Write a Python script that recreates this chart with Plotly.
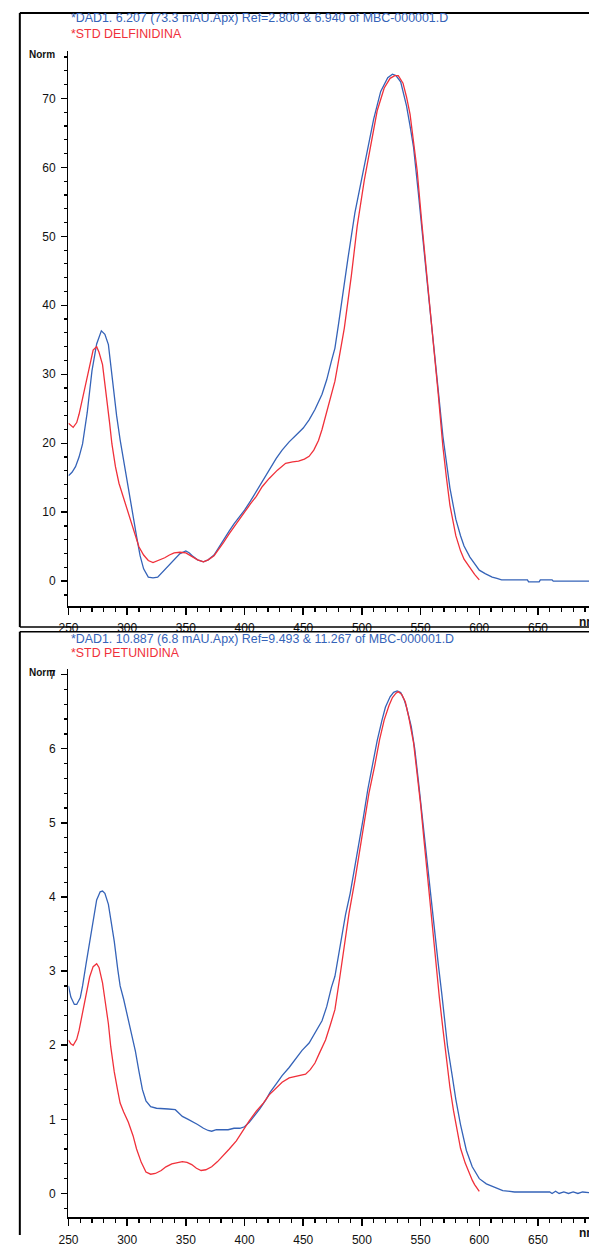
import plotly.graph_objects as go

W, H = 589, 1247

# ---------------- data ----------------
top_blue_nm = [250, 253, 256, 259, 262, 266, 270, 274, 278, 281, 284, 287, 291, 294, 297, 301, 305, 308, 311, 314,
               318, 322, 326, 330, 335, 340, 345, 350, 353, 356, 360, 365, 369, 374, 378, 382, 387, 391, 396, 400,
               405, 410, 415, 421, 427, 432, 438, 444, 450, 455, 460, 466, 470, 474, 477, 480, 483, 488, 494, 499,
               505, 510, 516, 522, 526, 529, 533, 538, 541, 544, 548, 552, 556, 561, 565, 569, 575, 580, 584, 587,
               592, 597, 600, 605, 611, 615, 619, 641, 642, 651, 652, 662, 663, 694]
top_blue_val = [15.3, 15.8, 16.6, 18.0, 19.9, 24.5, 30.5, 34.4, 36.3, 35.8, 34.3, 29.6, 24.0, 20.5, 17.4, 13.7, 9.6, 6.5, 3.7, 1.8,
                0.6, 0.5, 0.6, 1.3, 2.3, 3.2, 4.0, 4.4, 4.1, 3.6, 3.1, 2.8, 3.1, 3.8, 4.9, 6.1, 7.3, 8.3, 9.4, 10.3,
                11.6, 13.0, 14.5, 16.1, 17.8, 19.0, 20.2, 21.2, 22.2, 23.4, 24.9, 27.1, 29.2, 31.9, 33.8, 37.2, 40.5, 46.7, 53.4, 57.7,
                62.4, 67.0, 71.0, 73.0, 73.5, 73.3, 72.4, 68.9, 66.0, 62.9, 56.4, 50.0, 42.7, 34.4, 27.5, 21.0, 13.5, 9.0, 6.6, 5.1,
                3.5, 2.2, 1.6, 1.1, 0.6, 0.4, 0.2, 0.2, -0.1, -0.1, 0.2, 0.2, 0.0, 0.0]

top_red_nm = [250, 252, 254, 257, 259, 262, 265, 268, 271, 274, 276, 279, 281, 283, 285, 287, 290, 293, 297, 301,
              305, 310, 314, 318, 322, 327, 332, 336, 340, 345, 350, 355, 360, 365, 369, 374, 378, 382, 387, 391,
              396, 400, 405, 410, 415, 421, 428, 435, 441, 446, 451, 455, 459, 463, 466, 469, 473, 477, 481, 485,
              491, 496, 502, 508, 513, 519, 524, 528, 531, 535, 538, 541, 544, 547, 551, 556, 561, 565, 569, 572,
              575, 580, 584, 587, 592, 596, 600]
top_red_val = [22.9, 22.6, 22.3, 23.0, 24.2, 26.5, 29.0, 31.5, 33.5, 34.0, 33.2, 31.4, 28.8, 26.1, 23.0, 19.9, 16.6, 14.2, 12.0, 9.9,
               7.6, 5.0, 3.8, 3.0, 2.7, 3.0, 3.4, 3.8, 4.1, 4.2, 4.1, 3.6, 3.1, 2.8, 3.1, 3.7, 4.6, 5.6, 6.9, 7.9,
               9.1, 10.0, 11.2, 12.3, 13.7, 14.9, 16.1, 17.1, 17.3, 17.4, 17.7, 18.1, 19.0, 20.4, 22.0, 23.8, 26.4, 29.0, 32.8, 36.7,
               44.3, 51.5, 58.1, 63.6, 68.2, 71.5, 72.9, 73.3, 73.3, 72.2, 70.2, 67.7, 64.0, 59.6, 52.0, 42.7, 34.2, 27.2, 19.5, 15.0,
               11.0, 6.6, 4.4, 3.2, 1.9, 1.0, 0.2]

bot_blue_nm = [250, 252, 255, 257, 260, 262, 265, 268, 271, 274, 277, 279, 281, 284, 286, 289, 292, 294, 297, 301,
               304, 307, 310, 313, 316, 320, 325, 330, 335, 341, 344, 347, 352, 356, 360, 365, 369, 372, 376, 381,
               386, 391, 396, 400, 404, 408, 413, 418, 422, 427, 432, 438, 444, 449, 455, 460, 466, 470, 474, 477,
               480, 483, 486, 490, 494, 497, 501, 505, 509, 513, 517, 520, 524, 527, 530, 533, 536, 538, 542, 545,
               548, 551, 554, 557, 560, 562, 565, 568, 571, 573, 577, 580, 584, 589, 594, 600, 606, 614, 620, 630,
               660, 662, 665, 668, 672, 676, 680, 684, 688, 694]
bot_blue_val = [2.80, 2.65, 2.55, 2.55, 2.64, 2.80, 3.10, 3.40, 3.72, 3.96, 4.07, 4.08, 4.05, 3.90, 3.70, 3.40, 3.02, 2.80, 2.62, 2.33,
                2.12, 1.92, 1.65, 1.40, 1.25, 1.17, 1.15, 1.14, 1.14, 1.13, 1.08, 1.04, 1.00, 0.97, 0.93, 0.88, 0.85, 0.84, 0.86, 0.86,
                0.86, 0.88, 0.88, 0.90, 0.96, 1.04, 1.14, 1.26, 1.37, 1.48, 1.59, 1.70, 1.83, 1.93, 2.03, 2.16, 2.33, 2.52, 2.78, 2.93,
                3.20, 3.49, 3.76, 4.05, 4.40, 4.68, 5.05, 5.45, 5.80, 6.11, 6.38, 6.56, 6.70, 6.76, 6.78, 6.76, 6.66, 6.56, 6.30, 6.00,
                5.58, 5.13, 4.70, 4.26, 3.83, 3.52, 3.10, 2.70, 2.30, 1.98, 1.58, 1.27, 0.93, 0.58, 0.36, 0.20, 0.13, 0.08, 0.04, 0.02,
                0.02, 0.00, 0.03, 0.00, 0.02, 0.00, 0.02, 0.00, 0.02, 0.01]

bot_red_nm = [250, 252, 254, 257, 259, 262, 265, 268, 271, 274, 276, 279, 281, 284, 286, 289, 292, 294, 297, 301,
              305, 308, 312, 316, 320, 324, 329, 333, 338, 343, 347, 351, 355, 359, 363, 367, 372, 377, 382, 387,
              393, 398, 404, 410, 416, 421, 427, 432, 438, 445, 452, 456, 460, 464, 469, 473, 477, 481, 485, 489,
              494, 498, 502, 506, 511, 515, 519, 523, 526, 529, 531, 534, 537, 540, 544, 547, 550, 553, 555, 558,
              561, 564, 566, 569, 572, 575, 578, 581, 584, 588, 591, 594, 596, 600]
bot_red_val = [2.07, 2.02, 2.00, 2.08, 2.20, 2.45, 2.69, 2.92, 3.06, 3.10, 3.05, 2.84, 2.62, 2.29, 1.98, 1.64, 1.38, 1.22, 1.10, 0.96,
               0.78, 0.60, 0.42, 0.29, 0.26, 0.27, 0.31, 0.36, 0.40, 0.42, 0.43, 0.42, 0.39, 0.34, 0.31, 0.32, 0.36, 0.43, 0.51, 0.60,
               0.71, 0.84, 0.98, 1.11, 1.22, 1.33, 1.42, 1.50, 1.56, 1.59, 1.61, 1.67, 1.76, 1.90, 2.07, 2.27, 2.48, 2.90, 3.34, 3.78,
               4.22, 4.62, 5.00, 5.40, 5.78, 6.12, 6.39, 6.58, 6.69, 6.75, 6.77, 6.73, 6.63, 6.42, 6.08, 5.70, 5.25, 4.75, 4.42, 3.96,
               3.50, 3.00, 2.64, 2.22, 1.80, 1.43, 1.12, 0.85, 0.61, 0.41, 0.29, 0.18, 0.12, 0.03]

top_title_1 = "*DAD1. 6.207 (73.3 mAU.Apx) Ref=2.800 & 6.940 of MBC-000001.D"
top_title_2 = "*STD DELFINIDINA"
bot_title_1 = "*DAD1. 10.887 (6.8 mAU.Apx) Ref=9.493 & 11.267 of MBC-000001.D"
bot_title_2 = "*STD PETUNIDINA"
y_label = "Norm"
x_unit = "nm"

# ---------------- style ----------------
BLUE = "#3563b8"
RED = "#f0303a"
FONT = "Liberation Sans, Arial, sans-serif"


def PX(x):
    return x / W


def PY(y):
    return 1 - y / H


fig = go.Figure()
fig.add_trace(go.Scatter(x=top_blue_nm, y=top_blue_val, mode="lines", line=dict(color=BLUE, width=1.3),
                         xaxis="x", yaxis="y", showlegend=False, hoverinfo="skip"))
fig.add_trace(go.Scatter(x=top_red_nm, y=top_red_val, mode="lines", line=dict(color=RED, width=1.3),
                         xaxis="x", yaxis="y", showlegend=False, hoverinfo="skip"))
fig.add_trace(go.Scatter(x=bot_blue_nm, y=bot_blue_val, mode="lines", line=dict(color=BLUE, width=1.3),
                         xaxis="x2", yaxis="y2", showlegend=False, hoverinfo="skip"))
fig.add_trace(go.Scatter(x=bot_red_nm, y=bot_red_val, mode="lines", line=dict(color=RED, width=1.3),
                         xaxis="x2", yaxis="y2", showlegend=False, hoverinfo="skip"))

x0_px = 59.5
x_per_nm = 1.194
x_range = [250, 250 + (W - x0_px) / x_per_nm]

tickfont = dict(family=FONT, size=12, color="#111")


def xaxis_cfg(anchor):
    return dict(domain=[PX(x0_px), 1], range=x_range, anchor=anchor, showgrid=False, zeroline=False,
                showline=True, linecolor="black", linewidth=2, ticks="outside", ticklen=7, tickwidth=1.5,
                tickcolor="black", tick0=250, dtick=50, tickfont=tickfont, ticklabelstandoff=3,
                minor=dict(ticks="outside", dtick=10, ticklen=4, tickwidth=1.2, tickcolor="black", showgrid=False),
                fixedrange=True)


def yaxis_cfg(anchor, dom, rng, dt, mdt):
    return dict(domain=dom, range=rng, anchor=anchor, showgrid=False, zeroline=False,
                showline=True, linecolor="black", linewidth=1.5, ticks="outside", ticklen=6, tickwidth=1.5,
                tickcolor="black", tick0=0, dtick=dt, tickfont=tickfont, ticklabelstandoff=3,
                minor=dict(ticks="outside", dtick=mdt, ticklen=3, tickwidth=1.2, tickcolor="black", showgrid=False),
                fixedrange=True)


fig.update_layout(
    autosize=True, margin=dict(l=0, r=0, t=0, b=0),
    paper_bgcolor="white", plot_bgcolor="white",
    xaxis=xaxis_cfg("y"),
    yaxis=yaxis_cfg("x", [PY(610.7), PY(50)], [-3.57, 76.8], 10, 2),
    xaxis2=xaxis_cfg("y2"),
    yaxis2=yaxis_cfg("x2", [PY(1229.3), PY(675)], [-0.324, 7.07], 1, 0.2),
)

ann = []
for (t1, t2, y1, y2) in [(top_title_1, top_title_2, 16.5, 32), (bot_title_1, bot_title_2, 643.8, 658)]:
    ann.append(dict(text=t1, x=PX(60), y=PY(y1), xref="paper", yref="paper", xanchor="left", yanchor="middle",
                    showarrow=False, font=dict(family=FONT, size=12.4, color=BLUE)))
    ann.append(dict(text=t2, x=PX(60), y=PY(y2), xref="paper", yref="paper", xanchor="left", yanchor="middle",
                    showarrow=False, font=dict(family=FONT, size=12.4, color=RED)))
for yy in [53, 678]:
    ann.append(dict(text="<b>" + y_label + "</b>", x=PX(48), y=PY(yy), xref="paper", yref="paper",
                    xanchor="right", yanchor="middle", showarrow=False,
                    font=dict(family=FONT, size=10, color="#111")))
for yy in [626.7, 1245.3]:
    ann.append(dict(text="<b>" + x_unit + "</b>", x=PX(577), y=PY(yy), xref="paper", yref="paper",
                    xanchor="left", yanchor="middle", showarrow=False,
                    font=dict(family=FONT, size=12, color="#111")))
fig.update_layout(annotations=ann)

shapes = []


def seg(x0, y0, x1, y1, w):
    shapes.append(dict(type="line", xref="paper", yref="paper", x0=PX(x0), y0=PY(y0), x1=PX(x1), y1=PY(y1),
                       line=dict(color="black", width=w)))


seg(10, 11, W, 11, 2)
seg(10, 11, 10, 632, 2)
seg(10, 632, W, 632, 1.5)
seg(10, 637, W, 637, 1.5)
seg(10, 637, 10, H, 2)
fig.update_layout(shapes=shapes)

# graph div sized to the window and clipping anything drawn past its edges (as the cropped reference does)
fig.write_html("out.html", config=dict(displayModeBar=False, staticPlot=True),
               default_width=f"{W}px; overflow:hidden",
               default_height=f"{H}px",
               post_script="document.body.style.margin='0';document.body.style.overflow='hidden';"
                           "document.documentElement.style.overflow='hidden';")
